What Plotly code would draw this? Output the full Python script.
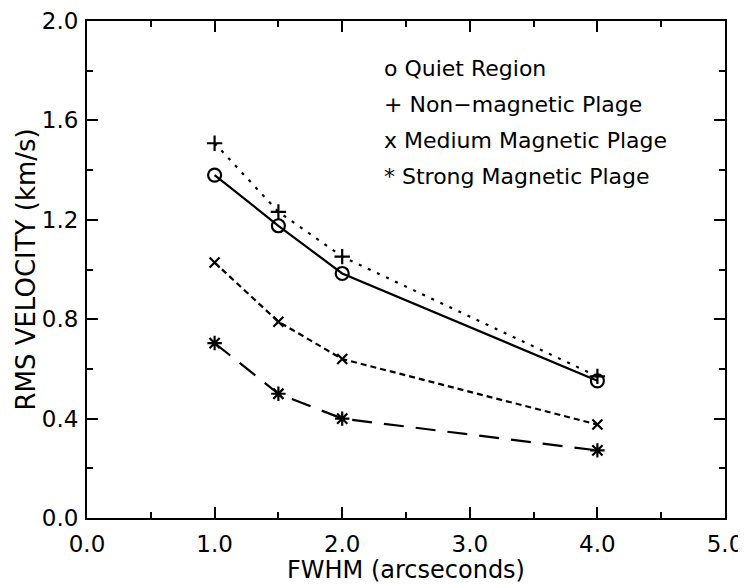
import plotly.graph_objects as go

fwhm = [1.0, 1.5, 2.0, 4.0]
quiet = [1.38, 1.176, 0.984, 0.552]
nonmag = [1.508, 1.232, 1.052, 0.57]
medium = [1.028, 0.79, 0.64, 0.376]
strong = [0.704, 0.50, 0.40, 0.272]

legend_labels = ["o Quiet Region", "+ Non\u2212magnetic Plage",
                 "x Medium Magnetic Plage", "* Strong Magnetic Plage"]
x_title = "FWHM (arcseconds)"
y_title = "RMS VELOCITY (km/s)"

FONT = "DejaVu Sans"
fig = go.Figure()
series = [
    (quiet, "solid", "circle-open", 13),
    (nonmag, "3px,7px", "cross-thin-open", 11),
    (medium, "6px,4px", "x-thin-open", 10),
    (strong, "20px,12px", "asterisk-open", 12),
]
for ys, dash, sym, sz in series:
    fig.add_trace(go.Scatter(
        x=fwhm, y=ys, mode="lines+markers",
        line=dict(color="black", width=2.2, dash=dash),
        marker=dict(symbol=sym, size=sz, color="black",
                    line=dict(color="black", width=2.2)),
        showlegend=False))

for i, t in enumerate(legend_labels):
    fig.add_annotation(x=2.31, y=1.81 - i * 0.145, text=t, showarrow=False,
                       xanchor="left", yanchor="middle",
                       font=dict(family=FONT, size=22, color="black"))

fig.add_annotation(xref="paper", yref="paper", x=-0.097, y=0.5,
                   text=y_title, textangle=-90, showarrow=False,
                   xanchor="center", yanchor="middle",
                   font=dict(family=FONT, size=26, color="black"))

axis_common = dict(showgrid=False, zeroline=False, showline=True,
                   linecolor="black", linewidth=2, mirror="ticks",
                   ticks="inside", ticklen=11, tickwidth=2, tickcolor="black",
                   automargin=False, ticklabeloverflow="allow",
                   tickfont=dict(family=FONT, size=23, color="black"))
fig.update_xaxes(range=[0, 5], dtick=1.0, tick0=0, tickformat=".1f",
                 ticklabelstandoff=4,
                 minor=dict(dtick=0.5, ticks="inside", ticklen=6, tickwidth=2,
                            tickcolor="black"),
                 title=dict(text=x_title, standoff=2,
                            font=dict(family=FONT, size=24, color="black")),
                 **axis_common)
fig.update_yaxes(range=[0, 2.0], dtick=0.4, tick0=0, tickformat=".1f",
                 ticklabelstandoff=2,
                 minor=dict(dtick=0.2, ticks="inside", ticklen=6, tickwidth=2,
                            tickcolor="black"),
                 **axis_common)
fig.update_layout(width=738, height=576,
                  margin=dict(l=79, r=21, t=13, b=66),
                  paper_bgcolor="white", plot_bgcolor="white")
fig.write_html("out.html")
